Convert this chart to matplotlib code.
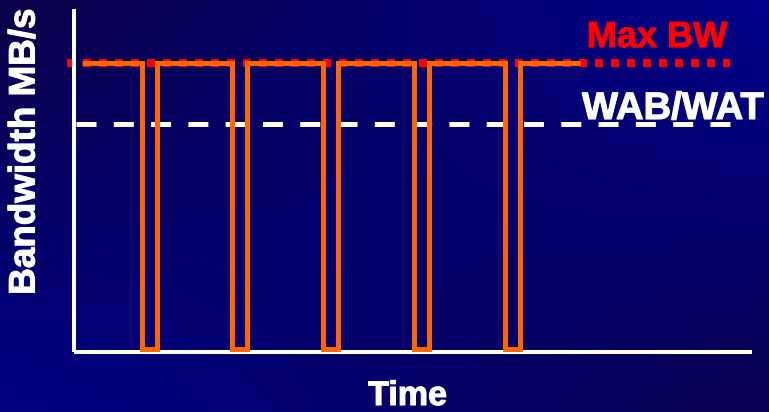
import numpy as np
import matplotlib
matplotlib.use("Agg")
import matplotlib.pyplot as plt
import matplotlib.patheffects as pe

# Bandwidth levels (MB/s, arbitrary scale)
max_bw = 100
wab_wat = 79
idle_bw = 1

# Time of the trace (ms): bursts at full bandwidth separated by short idle gaps
trace_start = 8
trace_end = 506
gap_start = [68, 158, 249, 340, 431]
gap_end = [83, 173, 264, 355, 446]

# Extent of the reference lines
ref_start_bw = -7
ref_start_wab = 2
ref_end = 656

W, H, DPI = 769, 412, 100
fig = plt.figure(figsize=(W / DPI, H / DPI), dpi=DPI)

# Background gradient
bg = fig.add_axes([0, 0, 1, 1])
bg.set_axis_off()
tl = np.array([10, 0, 72]) / 255
tr = np.array([0, 0, 140]) / 255
bl = np.array([0, 0, 132]) / 255
br = np.array([8, 0, 80]) / 255
u = np.linspace(0, 1, 200)[None, :, None]
v = np.linspace(0, 1, 120)[:, None, None]
img = (1 - v) * ((1 - u) * tl + u * tr) + v * ((1 - u) * bl + u * br)
bg.imshow(img, aspect="auto", extent=[0, 1, 0, 1], origin="upper")
bg.set_xlim(0, 1)
bg.set_ylim(0, 1)

# Main axes placed in pixel terms
left, right, bottom, top = 74, 752, H - 351.5, H - 9
ax = fig.add_axes([left / W, bottom / H, (right - left) / W, (top - bottom) / H])
ax.patch.set_alpha(0)
ax.set_xlim(0, right - left)
ax.set_ylim(0, (top - bottom) / 2.885)
for s in ["top", "right"]:
    ax.spines[s].set_visible(False)
for s in ["left", "bottom"]:
    ax.spines[s].set_color("white")
    ax.spines[s].set_linewidth(2.9)
    ax.spines[s].set_capstyle("butt")
ax.set_xticks([])
ax.set_yticks([])

# Max BW dotted line
ax.plot([ref_start_bw, ref_end], [max_bw, max_bw], color="#ff0000", lw=5.8,
        linestyle=(0, (5.76 / 5.8, 5.76 / 5.8)), dash_capstyle="butt",
        clip_on=False, zorder=2)

# WAB/WAT dashed line
ax.plot([ref_start_wab, ref_end], [wab_wat, wab_wat], color="white", lw=3.6,
        linestyle=(0, (14.4 / 3.6, 12.45 / 3.6)), dash_capstyle="butt",
        clip_on=False, zorder=3)

# Bandwidth trace built from the burst/gap times
tx = [trace_start]
ty = [max_bw]
for a, b in zip(gap_start, gap_end):
    tx += [a, a, b, b]
    ty += [max_bw, idle_bw, idle_bw, max_bw]
tx.append(trace_end)
ty.append(max_bw)
ax.plot(tx, ty, color="#ff6600", lw=3.6, solid_joinstyle="miter",
        solid_capstyle="butt", clip_on=False, zorder=4)

font = ["Liberation Sans", "DejaVu Sans"]


def heavy(color):
    return [pe.withStroke(linewidth=0.8, foreground=color)]


fig.text(657 / W, 1 - 47 / H, "Max BW", color="#ff0000", fontsize=26,
         fontweight="bold", family=font, ha="center", va="baseline",
         path_effects=heavy("#ff0000"))
fig.text(582 / W, 1 - 119 / H, "WAB/WAT", color="white", fontsize=27.5,
         fontweight="bold", family=font, ha="left", va="baseline",
         path_effects=heavy("white"))
fig.text(25 / W, 1 - 151.5 / H, "Bandwidth MB/s", color="white", fontsize=26.5,
         fontweight="bold", family=font, ha="center", va="center", rotation=90,
         path_effects=heavy("white"))
fig.text(407.5 / W, 1 - 405 / H, "Time", color="white", fontsize=24.5,
         fontweight="bold", family=font, ha="center", va="baseline",
         path_effects=heavy("white"))

fig.savefig("out.png", dpi=DPI)
